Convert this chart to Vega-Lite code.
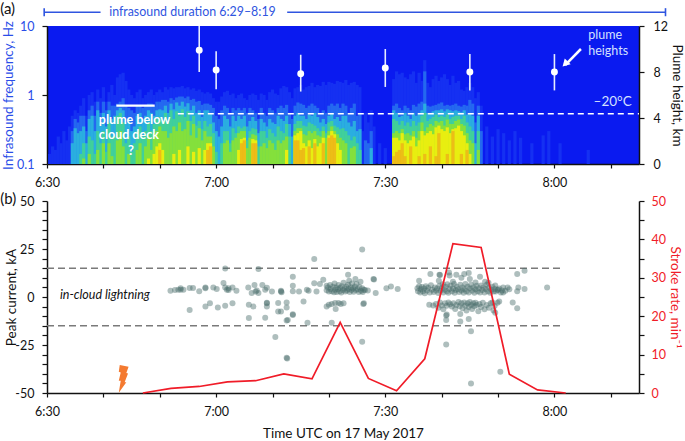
{"$schema":"https://vega.github.io/schema/vega-lite/v6.json","padding":{"top":1,"left":0,"right":0,"bottom":0},"bounds":"flush","spacing":37,"background":"white","config":{"font":"Lato","view":{"stroke":null},"axis":{"grid":false,"labelOverlap":false,"labelFlush":false,"labelFont":"Lato","titleFont":"Lato","labelFontSize":12.5,"titleFontSize":13.5,"titleFontWeight":"normal","domainColor":"#111","tickColor":"#111","domainWidth":1.5,"tickWidth":1.2,"labelColor":"#111","titleColor":"#111"}},
"datasets":{"spec":[
{"t":0.5,"d":0.14},{"t":1,"d":0.18},{"t":1.5,"d":0.16},{"t":2,"d":0.25},{"t":2.5,"d":0.2},{"t":3,"d":0.3},{"t":3.5,"d":0.22},{"t":4,"d":0.35},
{"t":4.5,"d":0.5,"m":0.3,"c":0.2},{"t":5,"d":0.6,"m":0.45,"c":0.33},{"t":5.5,"d":0.55,"m":0.4,"c":0.28},{"t":6,"d":0.7,"m":0.5,"c":0.3,"g":0.14},{"t":6.5,"d":0.9,"m":0.5,"c":0.35,"g":0.2,"l":0.12},{"t":7,"d":0.5,"m":0.3,"c":0.2},{"t":7.5,"d":1,"m":0.6,"c":0.45,"g":0.25,"l":0.14},{"t":8,"d":1.1,"m":0.7,"c":0.5,"g":0.22},{"t":8.5,"d":0.8,"m":0.5,"c":0.3,"g":0.14},{"t":9,"d":1.2,"m":0.8,"c":0.6,"g":0.3,"l":0.16},{"t":9.5,"d":0.9,"m":0.55,"c":0.4,"g":0.2},{"t":10,"d":1.3,"m":0.8,"c":0.55,"g":0.3,"l":0.2},{"t":10.5,"d":0.8,"m":0.6,"c":0.35,"g":0.15},{"t":11,"d":1.1,"m":0.8,"c":0.6,"g":0.4,"l":0.2},{"t":11.5,"d":1.4,"m":0.7,"c":0.45,"g":0.25,"l":0.13},{"t":12,"d":1,"m":0.7,"c":0.5,"g":0.25},{"t":12.5,"d":1.8,"m":0.75,"c":0.6,"g":0.5,"l":0.22},{"t":13,"d":2,"m":0.8,"c":0.65,"g":0.55,"l":0.3},{"t":13.5,"d":2.1,"m":0.9,"c":0.6,"g":0.4,"l":0.18},{"t":14,"d":1.6,"m":0.7,"c":0.4,"g":0.2},{"t":14.5,"d":1.2,"m":0.65,"c":0.45,"g":0.25,"l":0.14},{"t":15,"d":1,"m":0.6,"c":0.3,"g":0.15},{"t":15.5,"d":0.9,"m":0.55,"c":0.35,"g":0.2},{"t":16,"d":1.1,"m":0.7,"c":0.5,"g":0.3,"l":0.16},{"t":16.5,"d":1.2,"m":0.7,"c":0.55,"g":0.35,"l":0.2},{"t":17,"d":0.9,"m":0.65,"c":0.45,"g":0.25},{"t":17.5,"d":1,"m":0.7,"c":0.5,"g":0.3,"l":0.18},{"t":18,"d":1.1,"m":0.75,"c":0.6,"g":0.4,"l":0.25,"y":0.12},{"t":18.5,"d":1.2,"m":0.75,"c":0.55,"g":0.3,"l":0.16},{"t":19,"d":1,"m":0.7,"c":0.5,"g":0.38,"l":0.28,"y":0.14},{"t":19.5,"d":1.1,"m":0.8,"c":0.6,"g":0.45,"l":0.3,"y":0.18},{"t":20,"d":1.2,"m":0.8,"c":0.62,"g":0.48,"l":0.35,"y":0.2,"o":0.16},
{"t":20.5,"d":1.1,"m":0.85,"c":0.6,"g":0.42,"l":0.3,"y":0.16},{"t":21,"d":1.3,"m":0.85,"c":0.7,"g":0.55,"l":0.3},{"t":21.5,"d":1.2,"m":0.8,"c":0.55,"g":0.4,"l":0.24},{"t":22,"d":1.3,"m":0.9,"c":0.75,"g":0.6,"l":0.28},{"t":22.5,"d":1.25,"m":0.85,"c":0.62,"g":0.45,"l":0.35,"y":0.14},{"t":23,"d":1.3,"m":0.92,"c":0.78,"g":0.58,"l":0.3},{"t":23.5,"d":1.3,"m":0.95,"c":0.7,"g":0.5,"l":0.4,"y":0.16},{"t":24,"d":1.35,"m":0.95,"c":0.8,"g":0.62,"l":0.3},{"t":24.5,"d":1.25,"m":0.9,"c":0.68,"g":0.48,"l":0.32},{"t":25,"d":1.3,"m":0.95,"c":0.76,"g":0.58,"l":0.42,"y":0.18},{"t":25.5,"d":1.2,"m":0.85,"c":0.6,"g":0.42,"l":0.26},{"t":26,"d":1.25,"m":0.88,"c":0.7,"g":0.5,"l":0.38,"y":0.15},{"t":26.5,"d":1.15,"m":0.8,"c":0.55,"g":0.36,"l":0.24},{"t":27,"d":1.2,"m":0.82,"c":0.6,"g":0.42,"l":0.33,"y":0.17},{"t":27.5,"d":1.1,"m":0.72,"c":0.48,"g":0.32,"l":0.22},{"t":28,"d":1.05,"m":0.75,"c":0.6,"g":0.42,"l":0.3,"y":0.16},{"t":28.5,"d":1.1,"m":0.75,"c":0.6,"g":0.35,"l":0.25,"y":0.2,"o":0.16},{"t":29,"d":1.05,"m":0.72,"c":0.55,"g":0.38,"l":0.25,"y":0.2,"o":0.18},{"t":29.5,"d":0.9,"m":0.65,"c":0.4,"g":0.28,"l":0.18},{"t":30,"d":0.8,"m":0.5,"c":0.3,"g":0.15},{"t":30.5,"d":0.8,"m":0.45,"c":0.25},{"t":31,"d":0.95,"m":0.6,"c":0.35,"g":0.2},{"t":31.5,"d":1.1,"m":0.7,"c":0.5,"g":0.3,"l":0.2},{"t":32,"d":1.15,"m":0.65,"c":0.45,"g":0.3,"l":0.22},{"t":32.5,"d":1,"m":0.55,"c":0.35,"g":0.2,"l":0.15},{"t":33,"d":1.05,"m":0.65,"c":0.5,"g":0.33,"l":0.22},{"t":33.5,"d":0.9,"m":0.6,"c":0.42,"g":0.28,"l":0.24},{"t":34,"d":1,"m":0.65,"c":0.5,"g":0.35,"l":0.28,"y":0.16},{"t":34.5,"d":1.05,"m":0.6,"c":0.45,"g":0.33,"l":0.3,"y":0.23,"o":0.2},{"t":35,"d":0.9,"m":0.65,"c":0.5,"g":0.35,"l":0.3,"y":0.24,"o":0.22},{"t":35.5,"d":0.85,"m":0.55,"c":0.35,"g":0.22,"l":0.17},{"t":36,"d":1,"m":0.65,"c":0.42,"g":0.3,"l":0.24},{"t":36.5,"d":1.05,"m":0.6,"c":0.48,"g":0.33,"l":0.27,"y":0.23,"o":0.2},{"t":37,"d":1,"m":0.55,"c":0.42,"g":0.32,"l":0.26,"y":0.22,"o":0.2},{"t":37.5,"d":0.85,"m":0.45,"c":0.28,"g":0.18},{"t":38,"d":1.05,"m":0.65,"c":0.45,"g":0.3,"l":0.18},{"t":38.5,"d":1,"m":0.55,"c":0.4,"g":0.3,"l":0.2},{"t":39,"d":0.85,"m":0.5,"c":0.35,"g":0.24,"l":0.17},{"t":39.5,"d":1.1,"m":0.65,"c":0.45,"g":0.32,"l":0.22},{"t":40,"d":1.2,"m":0.6,"c":0.4,"g":0.28,"l":0.2},{"t":40.5,"d":1.05,"m":0.55,"c":0.38,"g":0.25,"l":0.16},{"t":41,"d":1,"m":0.65,"c":0.5,"g":0.35,"l":0.22},{"t":41.5,"d":1.25,"m":0.7,"c":0.45,"g":0.3,"l":0.2},{"t":42,"d":1.35,"m":0.65,"c":0.42,"g":0.28,"l":0.22},{"t":42.5,"d":1.3,"m":0.72,"c":0.5,"g":0.38,"l":0.25,"y":0.16},{"t":43,"d":1.1,"m":0.55,"c":0.38,"g":0.25},{"t":43.5,"d":0.9,"m":0.45,"c":0.25},{"t":44,"d":1.25,"m":0.7,"c":0.5,"g":0.38,"l":0.3,"y":0.26,"o":0.22},{"t":44.5,"d":1.3,"m":0.78,"c":0.55,"g":0.42,"l":0.33,"y":0.28,"o":0.22},{"t":45,"d":1.4,"m":0.75,"c":0.5,"g":0.42,"l":0.33,"y":0.3,"o":0.16},{"t":45.5,"d":1.2,"m":0.72,"c":0.5,"g":0.36,"l":0.27,"y":0.2,"o":0.17},{"t":46,"d":1.3,"m":0.65,"c":0.45,"g":0.35,"l":0.26,"y":0.18},{"t":46.5,"d":1.35,"m":0.7,"c":0.52,"g":0.4,"l":0.3,"y":0.22,"o":0.18},{"t":47,"d":1.5,"m":0.75,"c":0.5,"g":0.38,"l":0.28,"y":0.17},{"t":47.5,"d":1.3,"m":0.7,"c":0.55,"g":0.36,"l":0.3,"y":0.23,"o":0.2},{"t":48,"d":1.4,"m":0.65,"c":0.48,"g":0.33,"l":0.26,"y":0.18},{"t":48.5,"d":1.35,"m":0.55,"c":0.4,"g":0.3,"l":0.25,"y":0.2},{"t":49,"d":1.55,"m":0.6,"c":0.45,"g":0.35,"l":0.3,"y":0.24,"o":0.2},{"t":49.5,"d":1.4,"m":0.55,"c":0.38,"g":0.28,"l":0.24},{"t":50,"d":1.55,"m":0.7,"c":0.5,"g":0.4,"l":0.3,"y":0.26,"o":0.24},{"t":50.5,"d":1.5,"m":0.75,"c":0.55,"g":0.42,"l":0.35,"y":0.3,"o":0.26},{"t":51,"d":1.45,"m":0.7,"c":0.45,"g":0.36,"l":0.3,"y":0.27,"o":0.24},{"t":51.5,"d":1.6,"m":0.75,"c":0.48,"g":0.34,"l":0.27,"y":0.2},{"t":52,"d":1.55,"m":0.65,"c":0.42,"g":0.32,"l":0.24,"y":0.16},{"t":52.5,"d":1.5,"m":0.75,"c":0.5,"g":0.33,"l":0.22},{"t":53,"d":1.65,"m":0.7,"c":0.5,"g":0.3,"l":0.2},{"t":53.5,"d":1.4,"m":0.55,"c":0.4,"g":0.26},{"t":54,"d":1.5,"m":0.65,"c":0.35,"g":0.22,"l":0.17},{"t":54.5,"d":1.55,"m":0.75,"c":0.42,"g":0.25,"l":0.18},{"t":55,"d":1.4,"m":0.5,"c":0.3,"g":0.2},{"t":55.5,"d":1.3,"m":0.55,"c":0.32,"g":0.16},{"t":56,"d":0.3},{"t":56.5,"d":0.55,"m":0.22},{"t":57,"d":0.4,"m":0.2},{"t":57.5,"d":0.6,"m":0.3,"c":0.17},{"t":58,"d":0.35},{"t":59,"d":0.2},{"t":60,"d":0.17},
{"t":61.5,"d":1.7,"m":0.7,"c":0.6,"g":0.45,"l":0.28,"y":0.24,"o":0.13},{"t":62,"d":2.2,"m":0.75,"c":0.55,"g":0.42,"l":0.3,"y":0.24,"o":0.15},{"t":62.5,"d":2,"m":0.65,"c":0.48,"g":0.37,"l":0.28,"y":0.22,"o":0.16},{"t":63,"d":2.1,"m":0.6,"c":0.5,"g":0.42,"l":0.32,"y":0.28,"o":0.2},{"t":63.5,"d":1.8,"m":0.7,"c":0.55,"g":0.36,"l":0.27,"y":0.22,"o":0.13},{"t":64,"d":1.7,"m":0.65,"c":0.5,"g":0.4,"l":0.28,"y":0.2},{"t":64.5,"d":2,"m":0.6,"c":0.45,"g":0.35,"l":0.26,"y":0.22,"o":0.18},{"t":65,"d":2.2,"m":0.72,"c":0.55,"g":0.42,"l":0.3,"y":0.25},{"t":65.5,"d":1.5,"m":0.68,"c":0.5,"g":0.36,"l":0.24,"y":0.18},{"t":66,"d":2.1,"m":0.75,"c":0.55,"g":0.4,"l":0.3,"y":0.22,"o":0.13},{"t":66.5,"d":1.6,"m":0.8,"c":0.6,"g":0.5,"l":0.4,"y":0.3},{"t":67,"d":3.2,"m":2.2,"c":0.75,"g":0.55,"l":0.3,"y":0.26,"o":0.14},{"t":67.5,"d":1.5,"m":0.7,"c":0.55,"g":0.42,"l":0.34,"y":0.28},{"t":68,"d":1.3,"m":0.68,"c":0.55,"g":0.45,"l":0.38,"y":0.3,"o":0.18},{"t":68.5,"d":1.7,"m":0.7,"c":0.58,"g":0.48,"l":0.36,"y":0.27},{"t":69,"d":1.9,"m":0.72,"c":0.6,"g":0.52,"l":0.42,"y":0.34,"o":0.13},{"t":69.5,"d":1.6,"m":0.75,"c":0.6,"g":0.48,"l":0.4,"y":0.36,"o":0.28},{"t":70,"d":1.8,"m":0.78,"c":0.62,"g":0.5,"l":0.42,"y":0.32},{"t":70.5,"d":2,"m":0.7,"c":0.58,"g":0.48,"l":0.36,"y":0.3},{"t":71,"d":1.7,"m":0.72,"c":0.62,"g":0.52,"l":0.44,"y":0.34,"o":0.14},{"t":71.5,"d":1.4,"m":0.7,"c":0.6,"g":0.45,"l":0.38,"y":0.28},{"t":72,"d":1.9,"m":0.72,"c":0.58,"g":0.48,"l":0.38,"y":0.32,"o":0.3},{"t":72.5,"d":1.5,"m":0.75,"c":0.6,"g":0.5,"l":0.42,"y":0.33},{"t":73,"d":1.6,"m":0.7,"c":0.58,"g":0.5,"l":0.44,"y":0.36},{"t":73.5,"d":1.2,"m":0.68,"c":0.56,"g":0.45,"l":0.38,"y":0.3,"o":0.14},{"t":74,"d":1.15,"m":0.72,"c":0.6,"g":0.5,"l":0.36,"y":0.26},{"t":74.5,"d":1.3,"m":0.7,"c":0.52,"g":0.4,"l":0.28,"y":0.2,"o":0.16},{"t":75,"d":1.5,"m":0.85,"c":0.55,"g":0.35,"l":0.22,"y":0.14},{"t":75.5,"d":1.3,"m":0.75,"c":0.5,"g":0.3,"l":0.2},{"t":76,"d":0.9,"m":0.4,"c":0.2},{"t":76.5,"d":1.1,"m":0.7,"c":0.5,"g":0.3,"l":0.16},{"t":77,"d":0.7,"m":0.3},{"t":78,"d":0.35},{"t":79,"d":0.25},{"t":80,"d":0.32},{"t":81,"d":0.28},{"t":82,"d":0.22},{"t":83,"d":0.3},{"t":84,"d":0.24},{"t":86,"d":0.2},{"t":88,"d":0.26},{"t":89,"d":0.3},{"t":91,"d":0.2},{"t":96,"d":0.16}],
"pts":[{"t":21.9,"c":3.3},{"t":22.7,"c":3.6},{"t":23.3,"c":3.8},{"t":23.7,"c":4.5},{"t":24.2,"c":3.8},{"t":23.7,"c":3.8},{"t":25.3,"c":4.7},{"t":25.9,"c":4.7},{"t":27,"c":3},{"t":28.1,"c":5},{"t":28.1,"c":4.6},{"t":29.5,"c":5},{"t":30.1,"c":4.2},{"t":31.3,"c":7.3},{"t":31.6,"c":5},{"t":31.9,"c":3.8},{"t":32.2,"c":4.6},{"t":32.2,"c":3.6},{"t":32.9,"c":5},{"t":33.6,"c":3.3},{"t":31.6,"c":14.9},{"t":37.5,"c":14.6},{"t":35.7,"c":4.9},{"t":36.8,"c":6.2},{"t":36.3,"c":2.1},{"t":37,"c":2.8},{"t":37.5,"c":2.1},{"t":37.2,"c":3.4},{"t":38.2,"c":6.2},{"t":38.7,"c":3.8},{"t":39,"c":4.8},{"t":39.9,"c":2.8},{"t":41.5,"c":2.8},{"t":41.5,"c":3.2},{"t":41.6,"c":2.5},{"t":43.6,"c":10.6},{"t":43.6,"c":5.9},{"t":43.6,"c":3},{"t":44.7,"c":2.8},{"t":46.1,"c":3.8},{"t":46.4,"c":3.3},{"t":47.4,"c":7.1},{"t":47.8,"c":2.8},{"t":48.4,"c":6.8},{"t":47.4,"c":19.8},{"t":49,"c":9},{"t":49.6,"c":5.9},{"t":53.4,"c":11.6},{"t":54.7,"c":9.4},{"t":57.9,"c":9.4},{"t":55.9,"c":24.7},{"t":25.3,"c":-6.8},{"t":28.1,"c":-4.9},{"t":28.9,"c":-3.3},{"t":30.3,"c":-5.5},{"t":31.6,"c":-4.5},{"t":32.9,"c":-3.3},{"t":35.8,"c":-4},{"t":36.6,"c":-4.9},{"t":35.8,"c":-11},{"t":38.7,"c":-10.8},{"t":39,"c":-3.3},{"t":39,"c":-3},{"t":39,"c":-4.9},{"t":41,"c":-3.1},{"t":41,"c":-7.6},{"t":41.5,"c":-7.6},{"t":42.5,"c":-2.8},{"t":42.5,"c":-5.5},{"t":43.6,"c":-9.4},{"t":43.6,"c":-9},{"t":42.5,"c":-12.3},{"t":42.7,"c":-12},{"t":45.5,"c":-2.3},{"t":46.2,"c":-13.4},{"t":50.5,"c":-13.4},{"t":40.5,"c":-20.8},{"t":42.5,"c":-31.6},{"t":42.6,"c":-32},{"t":55.9,"c":-23.3},
{"t":49.6,"c":-4.9},{"t":50.5,"c":-3.6},{"t":51.1,"c":-3.1},{"t":51.7,"c":-3.1},{"t":52.1,"c":-3.6},{"t":51.2,"c":-6.2},{"t":52.6,"c":-3.3},{"t":50,"c":-4},{"t":56.1,"c":-3.6},{"t":56.2,"c":-3.3},
{"t":49.6,"c":3.5},{"t":49.8,"c":5},{"t":50,"c":2.8},{"t":50.2,"c":6.3},{"t":50.3,"c":4.2},{"t":50.5,"c":3},{"t":50.7,"c":5.3},{"t":50.9,"c":2.5},{"t":51,"c":7},{"t":51.1,"c":3.8},{"t":51.3,"c":5},{"t":51.4,"c":2.6},{"t":51.6,"c":4},{"t":51.7,"c":6.2},{"t":51.9,"c":3},{"t":52,"c":4.8},{"t":52.2,"c":2.4},{"t":52.3,"c":5.6},{"t":52.5,"c":3.7},{"t":52.6,"c":7.4},{"t":52.8,"c":4.4},{"t":52.9,"c":2.8},{"t":53.1,"c":5.4},{"t":53.2,"c":3.4},{"t":53.4,"c":6.4},{"t":53.5,"c":4.2},{"t":53.6,"c":8.4},{"t":53.7,"c":2.6},{"t":53.9,"c":5.1},{"t":54,"c":3.6},{"t":54.1,"c":7},{"t":54.3,"c":4.4},{"t":54.4,"c":2.7},{"t":54.6,"c":5.3},{"t":54.8,"c":3.6},{"t":54.9,"c":6.8},{"t":55.1,"c":4.1},{"t":55.3,"c":2.6},{"t":55.4,"c":5.2},{"t":55.6,"c":8},{"t":55.7,"c":3.3},{"t":55.9,"c":4.5},{"t":56,"c":2.6},{"t":56.2,"c":3.8},{"t":56.4,"c":3.6},{"t":56.9,"c":3.4},{"t":58,"c":9.1},{"t":58.3,"c":2.1},{"t":60.2,"c":4.6},{"t":61,"c":5.5},{"t":62.2,"c":4.2},
{"t":66,"c":8.5},{"t":68,"c":12},{"t":69.6,"c":11.6},{"t":69.7,"c":11.4},{"t":71.3,"c":12.8},{"t":71.4,"c":11.2},{"t":72.6,"c":11.6},{"t":74,"c":12},{"t":74.8,"c":12.5},{"t":69.5,"c":8.5},{"t":75,"c":9.4},{"t":76.8,"c":10.6},{"t":77.7,"c":8},{"t":83.4,"c":12},{"t":84.7,"c":13.7},{"t":80.9,"c":5},{"t":81.7,"c":5},{"t":83.6,"c":5},{"t":84.7,"c":4.2},{"t":88.7,"c":5},{"t":83.4,"c":3},{"t":80.9,"c":2.4},{"t":80,"c":3.8},{"t":79.5,"c":6},{"t":72,"c":8},{"t":73.5,"c":10},{"t":76,"c":7.6},{"t":78.3,"c":7.4},{"t":67.8,"c":-4},{"t":82.6,"c":-2.8},{"t":83.4,"c":-5.9},{"t":70.8,"c":-9.7},{"t":70.9,"c":-9.1},{"t":70.8,"c":-12},{"t":73.3,"c":-8.9},{"t":73.3,"c":-12.7},{"t":74.8,"c":-11.5},{"t":75.2,"c":-17.9},{"t":70.8,"c":-24.7},{"t":79.2,"c":-7},{"t":79.5,"c":-8.2},{"t":80.4,"c":-38.9},{"t":75.2,"c":-45},
{"t":65.7,"c":4.5},{"t":65.8,"c":3},{"t":66,"c":5.6},{"t":66.2,"c":2.3},{"t":66.3,"c":4},{"t":66.5,"c":5.2},{"t":66.7,"c":3},{"t":66.9,"c":4.4},{"t":67,"c":2},{"t":67.2,"c":5.6},{"t":67.4,"c":3.4},{"t":67.6,"c":4.8},{"t":67.9,"c":2.4},{"t":68.1,"c":6.1},{"t":68.3,"c":3.8},{"t":68.6,"c":2.6},{"t":68.8,"c":5},{"t":69,"c":3.4},{"t":69.2,"c":4.4},{"t":69.4,"c":2.1},{"t":69.6,"c":5.8},{"t":69.8,"c":3.2},{"t":70,"c":4.6},{"t":70.2,"c":6.6},{"t":70.3,"c":2.4},{"t":70.5,"c":3.8},{"t":70.7,"c":5.4},{"t":70.9,"c":3},{"t":71,"c":6.6},{"t":71.2,"c":2.2},{"t":71.4,"c":4.2},{"t":71.6,"c":5.8},{"t":71.8,"c":3},{"t":72,"c":4.4},{"t":72.2,"c":6.8},{"t":72.3,"c":2.2},{"t":72.5,"c":3.6},{"t":72.7,"c":5.4},{"t":72.9,"c":4},{"t":73.1,"c":2.6},{"t":73.3,"c":6.4},{"t":73.5,"c":3.4},{"t":73.7,"c":5},{"t":73.9,"c":2.2},{"t":74,"c":4},{"t":74.2,"c":6.8},{"t":74.4,"c":3},{"t":74.6,"c":5.4},{"t":74.8,"c":2.4},{"t":75,"c":4.4},{"t":75.2,"c":6.4},{"t":75.4,"c":3.2},{"t":75.6,"c":5},{"t":75.8,"c":2.2},{"t":76,"c":4},{"t":76.2,"c":5.8},{"t":76.4,"c":3},{"t":76.6,"c":4.6},{"t":76.8,"c":2.4},{"t":77,"c":6},{"t":77.2,"c":3.6},{"t":77.4,"c":5},{"t":77.6,"c":2.4},{"t":77.8,"c":4.2},{"t":78,"c":6.4},{"t":78.2,"c":3},{"t":78.4,"c":5},{"t":78.6,"c":2.2},{"t":78.8,"c":3.8},{"t":79,"c":5.4},{"t":79.2,"c":2.8},{"t":79.4,"c":4.2},{"t":79.6,"c":2.8},{"t":79.9,"c":3.6},{"t":80.2,"c":4.4},{"t":80.5,"c":2.4},{"t":80.7,"c":3.4},{"t":81.3,"c":3.2},{"t":82,"c":4},
{"t":68.5,"c":-4.4},{"t":69,"c":-3.6},{"t":69.4,"c":-5.6},{"t":69.7,"c":-2.9},{"t":70,"c":-4.4},{"t":70.3,"c":-6.4},{"t":70.6,"c":-3.2},{"t":70.9,"c":-4.6},{"t":71.2,"c":-2.8},{"t":71.5,"c":-3.8},{"t":71.8,"c":-5},{"t":72.1,"c":-3.2},{"t":72.4,"c":-6.2},{"t":72.6,"c":-4.2},{"t":73,"c":-2.6},{"t":73.2,"c":-4.8},{"t":73.5,"c":-3.2},{"t":73.7,"c":-5.8},{"t":74,"c":-2.8},{"t":74.2,"c":-4.4},{"t":74.4,"c":-7},{"t":74.6,"c":-3.2},{"t":74.8,"c":-5.2},{"t":75,"c":-2.6},{"t":75.2,"c":-4.2},{"t":75.4,"c":-6.2},{"t":75.6,"c":-3.2},{"t":75.8,"c":-4.8},{"t":76,"c":-3},{"t":76.2,"c":-4.2},{"t":76.5,"c":-7.4},{"t":76.7,"c":-3.6},{"t":77,"c":-5.2},{"t":77.3,"c":-3},{"t":77.6,"c":-6.4},{"t":78,"c":-4.2},{"t":78.4,"c":-5.6},{"t":78.7,"c":-3.2},{"t":79,"c":-2.8},{"t":79.4,"c":-4.6},{"t":79.9,"c":-3},{"t":80.2,"c":-2.4}],
"rate":[{"t":17,"r":0},{"t":22,"r":1.2},{"t":27,"r":1.7},{"t":32,"r":2.9},{"t":37,"r":3.2},{"t":42,"r":5},{"t":47,"r":3.7},{"t":52,"r":18.4},{"t":57,"r":3.8},{"t":62,"r":0.6},{"t":67,"r":8.9},{"t":72,"r":38.9},{"t":77,"r":37.9},{"t":82,"r":4.9},{"t":87,"r":0.8},{"t":92,"r":0}]},
"vconcat":[
{"width":592,"height":138,"view":{"fill":"#0a1af0","stroke":null},"resolve":{"scale":{"y":"independent"}},"layer":[
{"data":{"name":"spec"},"encoding":{"x":{"field":"t","type":"quantitative","scale":{"domain":[0,105],"nice":false,"zero":false,"padding":0},"axis":{"title":null,"values":[0,5,10,15,20,25,30,35,40,45,50,55,60,65,70,75,80,85,90,95,100,105],"labelExpr":"datum.value%15==0&&datum.value<100?floor((390+datum.value)/60)+':'+(((390+datum.value)%60)<10?'0':'')+((390+datum.value)%60):''","tickSize":4,"labelPadding":8}},"y2":{"datum":0.1}},
"layer":[
{"mark":{"type":"bar","width":3.2,"orient":"vertical","color":"#1530f2"},"encoding":{"y":{"field":"d","type":"quantitative","scale":{"type":"log","domain":[0.1,10],"nice":false},"axis":{"title":"Infrasound frequency, Hz","orient":"left","values":[0.1,1,10],"format":"~g","labelColor":"#2a4de8","titleColor":"#2a4de8","labelPadding":8,"titlePadding":1,"tickSize":5}}}},
{"mark":{"type":"bar","width":3.2,"orient":"vertical","color":"#2468f0"},"encoding":{"y":{"field":"m","type":"quantitative","scale":{"type":"log"}}}},
{"mark":{"type":"bar","width":3.2,"orient":"vertical","color":"#2aaee0"},"encoding":{"y":{"field":"c","type":"quantitative","scale":{"type":"log"}}}},
{"mark":{"type":"bar","width":3.2,"orient":"vertical","color":"#40d09a"},"encoding":{"y":{"field":"g","type":"quantitative","scale":{"type":"log"}}}},
{"mark":{"type":"bar","width":3.2,"orient":"vertical","color":"#84e03c"},"encoding":{"y":{"field":"l","type":"quantitative","scale":{"type":"log"}}}},
{"mark":{"type":"bar","width":3.2,"orient":"vertical","color":"#e8ee10"},"encoding":{"y":{"field":"y","type":"quantitative","scale":{"type":"log"}}}},
{"mark":{"type":"bar","width":3.2,"orient":"vertical","color":"#eeb018","opacity":0.8},"encoding":{"y":{"field":"o","type":"quantitative","scale":{"type":"log"}}}}
]},
{"layer":[
{"data":{"values":[{"t":27,"lo":8,"hi":12},{"t":30,"lo":6.5,"hi":9.8},{"t":45,"lo":6.3,"hi":9.5},{"t":60,"lo":6.7,"hi":10},{"t":75,"lo":6.4,"hi":9.56},{"t":90,"lo":6.4,"hi":9.56}]},"mark":{"type":"rule","color":"#e6ecff","strokeWidth":1.6},"encoding":{"x":{"field":"t","type":"quantitative"},"y":{"field":"lo","type":"quantitative","scale":{"domain":[0,12],"nice":false},"axis":{"title":"Plume height, km","orient":"right","values":[0,1,2,3,4,5,6,7,8,9,10,11,12],"labelExpr":"datum.value%2==0?''+datum.value:''","labelPadding":9,"titlePadding":2,"tickSize":5}},"y2":{"field":"hi"}}},
{"data":{"values":[{"t":27,"h":9.9},{"t":30,"h":8.17},{"t":45,"h":7.85},{"t":60,"h":8.35},{"t":75,"h":8},{"t":90,"h":8}]},"mark":{"type":"circle","color":"white","opacity":1,"size":48},"encoding":{"x":{"field":"t","type":"quantitative"},"y":{"field":"h","type":"quantitative"}}},
{"data":{"values":[{"t":23.2,"t2":105,"h":4.37}]},"mark":{"type":"rule","color":"white","strokeWidth":1.6,"strokeDash":[6,4]},"encoding":{"x":{"field":"t","type":"quantitative"},"x2":{"field":"t2"},"y":{"field":"h","type":"quantitative"}}},
{"data":{"values":[{"t":12.3,"t2":19.1,"h":5.07}]},"mark":{"type":"rule","color":"white","strokeWidth":2.2},"encoding":{"x":{"field":"t","type":"quantitative"},"x2":{"field":"t2"},"y":{"field":"h","type":"quantitative"}}},
{"data":{"values":[{"t":94.7,"t2":91.9,"h":10,"h2":8.6}]},"mark":{"type":"rule","color":"white","strokeWidth":2.5},"encoding":{"x":{"field":"t","type":"quantitative"},"x2":{"field":"t2"},"y":{"field":"h","type":"quantitative"},"y2":{"field":"h2"}}},
{"data":{"values":[{"t":91.9,"h":8.7}]},"mark":{"type":"point","shape":"triangle-up","filled":true,"color":"white","opacity":1,"angle":225,"size":70},"encoding":{"x":{"field":"t","type":"quantitative"},"y":{"field":"h","type":"quantitative"}}},
{"data":{"values":[{"t":9.2,"h":3.85,"s":"plume below"},{"t":9.2,"h":2.55,"s":"cloud deck"}]},"mark":{"type":"text","align":"left","baseline":"middle","color":"white","fontWeight":"bold","fontSize":12.5},"encoding":{"x":{"field":"t","type":"quantitative"},"y":{"field":"h","type":"quantitative"},"text":{"field":"s"}}},
{"data":{"values":[{"t":14.9,"h":1.1,"s":"?"}]},"mark":{"type":"text","align":"center","baseline":"middle","color":"white","fontWeight":"bold","fontSize":13},"encoding":{"x":{"field":"t","type":"quantitative"},"y":{"field":"h","type":"quantitative"},"text":{"field":"s"}}},
{"data":{"values":[{"t":96,"h":11.2,"s":"plume"},{"t":96,"h":9.8,"s":"heights"}]},"mark":{"type":"text","align":"left","baseline":"middle","color":"#d4e0ff","fontSize":12.5},"encoding":{"x":{"field":"t","type":"quantitative"},"y":{"field":"h","type":"quantitative"},"text":{"field":"s"}}},
{"data":{"values":[{"t":103.7,"h":5.4,"s":"–20°C"}]},"mark":{"type":"text","align":"right","baseline":"middle","color":"#d4e0ff","fontSize":13.5},"encoding":{"x":{"field":"t","type":"quantitative"},"y":{"field":"h","type":"quantitative"},"text":{"field":"s"}}},
{"data":{"values":[{"t":-0.5,"t2":9.5,"h":13.2},{"t":42.6,"t2":109.7,"h":13.2}]},"mark":{"type":"rule","color":"#2f55e0","strokeWidth":1.6},"encoding":{"x":{"field":"t","type":"quantitative"},"x2":{"field":"t2"},"y":{"field":"h","type":"quantitative"}}},
{"data":{"values":[{"t":-0.5,"lo":12.85,"hi":13.55},{"t":109.7,"lo":12.85,"hi":13.55}]},"mark":{"type":"rule","color":"#2f55e0","strokeWidth":1.6},"encoding":{"x":{"field":"t","type":"quantitative"},"y":{"field":"lo","type":"quantitative"},"y2":{"field":"hi"}}},
{"data":{"values":[{"t":25.8,"h":13.25,"s":"infrasound duration 6:29–8:19"}]},"mark":{"type":"text","align":"center","baseline":"middle","color":"#2f55e0","fontSize":12.4},"encoding":{"x":{"field":"t","type":"quantitative"},"y":{"field":"h","type":"quantitative"},"text":{"field":"s"}}},
{"data":{"values":[{"t":-8.3,"h":13.5,"s":"(a)"}]},"mark":{"type":"text","align":"left","baseline":"middle","color":"#111","fontSize":15},"encoding":{"x":{"field":"t","type":"quantitative"},"y":{"field":"h","type":"quantitative"},"text":{"field":"s"}}}
]}
]},
{"width":592,"height":192,"resolve":{"scale":{"y":"independent"}},"layer":[
{"layer":[
{"data":{"values":[{"t":0,"t2":91.5,"c":15},{"t":0,"t2":91.5,"c":-15}]},"mark":{"type":"rule","color":"#7a7a7a","strokeWidth":1.5,"strokeDash":[7,4]},"encoding":{"x":{"field":"t","type":"quantitative","scale":{"domain":[0,105],"nice":false,"zero":false},"axis":{"title":"Time UTC on 17 May 2017","values":[0,5,10,15,20,25,30,35,40,45,50,55,60,65,70,75,80,85,90,95,100,105],"labelExpr":"datum.value%15==0&&datum.value<100?floor((390+datum.value)/60)+':'+(((390+datum.value)%60)<10?'0':'')+((390+datum.value)%60):''","tickSize":4,"labelPadding":8,"titlePadding":9}},"x2":{"field":"t2"},"y":{"field":"c","type":"quantitative","scale":{"domain":[-50,50],"nice":false},"axis":{"title":"Peak current, kA","orient":"left","tickCount":20,"labelExpr":"abs(datum.value)%25==0?''+datum.value:''","labelPadding":8,"titlePadding":-4,"tickSize":5}}}},
{"data":{"name":"pts"},"mark":{"type":"circle","color":"#466b68","opacity":0.44,"size":36},"encoding":{"x":{"field":"t","type":"quantitative"},"y":{"field":"c","type":"quantitative"}}},
{"data":{"values":[{"t":2.3,"c":1,"s":"in-cloud lightning"}]},"mark":{"type":"text","align":"left","baseline":"middle","color":"#111","fontStyle":"italic","fontSize":12.5},"encoding":{"x":{"field":"t","type":"quantitative"},"y":{"field":"c","type":"quantitative"},"text":{"field":"s"}}},
{"data":{"values":[{"t":13.55,"c":-42.7}]},"mark":{"type":"point","filled":true,"color":"#f47a30","opacity":1,"size":784,"shape":"M-0.26,-1L0.37,-0.88L0.21,-0.42L0.33,-0.40L0.09,0.23L0.21,0.23L-0.33,0.98L-0.19,0.12L-0.33,0.12L-0.19,-0.47L-0.33,-0.51Z"},"encoding":{"x":{"field":"t","type":"quantitative"},"y":{"field":"c","type":"quantitative"}}},
{"data":{"values":[{"t":-8.3,"c":51,"s":"(b)"}]},"mark":{"type":"text","align":"left","baseline":"middle","color":"#111","fontSize":15},"encoding":{"x":{"field":"t","type":"quantitative"},"y":{"field":"c","type":"quantitative"},"text":{"field":"s"}}}
]},
{"data":{"name":"rate"},"mark":{"type":"line","color":"#f01c28","strokeWidth":1.7},"encoding":{"x":{"field":"t","type":"quantitative"},"y":{"field":"r","type":"quantitative","scale":{"domain":[0,50],"nice":false},"axis":{"title":"Stroke rate, min⁻¹","orient":"right","values":[0,5,10,15,20,25,30,35,40,45,50],"labelExpr":"datum.value%10==0?''+datum.value:''","labelColor":"#f01c28","titleColor":"#f01c28","labelPadding":7,"titlePadding":2,"tickSize":5}}}}
]}
]}
